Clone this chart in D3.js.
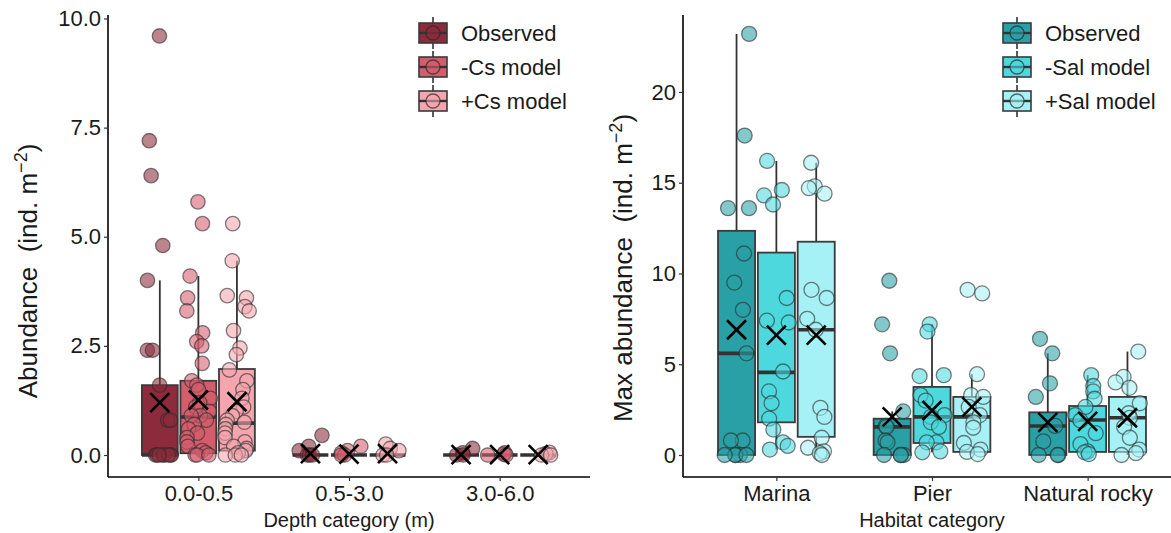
<!DOCTYPE html>
<html><head><meta charset="utf-8">
<script src="https://cdn.jsdelivr.net/npm/d3@7/dist/d3.min.js"></script>
<style>body{margin:0;background:#fff}svg{display:block;font-family:"Liberation Sans",Arial,sans-serif}</style>
</head><body><svg id="c" width="1171" height="533"></svg>
<script>
// ---------- data ----------
const leftCats = ["0.0-0.5", "0.5-3.0", "3.0-6.0"];
const leftSeries = ["Observed", "-Cs model", "+Cs model"];
const leftColors = ["#8b2b3b", "#d45d6d", "#f5a5ae"];
// points per category, per series
const leftObserved = [
  [9.6, 7.2, 6.4, 4.8, 4.0, 2.4, 2.4, 1.6, 0.8, 0.8, 0, 0, 0, 0, 0, 0, 0, 0],
  [0.45, 0.2, 0.1, 0, 0, 0],
  [0.15, 0.05, 0, 0]
];
const leftMinusCs = [
  [5.8, 5.3, 4.1, 3.6, 3.3, 2.8, 2.6, 2.5, 2.1, 1.7, 1.6, 1.5, 1.3, 1.2, 1.1, 1.0, 0.9, 0.9, 0.8, 0.7, 0.6, 0.5, 0.4, 0.3, 0.2, 0.1, 0.05, 0, 0, 0],
  [0.2, 0.1, 0.05, 0, 0],
  [0.05, 0.02, 0, 0]
];
const leftPlusCs = [
  [5.3, 4.45, 3.65, 3.6, 3.4, 3.3, 2.85, 2.45, 2.3, 1.95, 1.7, 1.5, 1.3, 1.1, 1.0, 0.9, 0.8, 0.75, 0.7, 0.6, 0.5, 0.4, 0.3, 0.2, 0.15, 0.1, 0.05, 0, 0, 0],
  [0.25, 0.15, 0.1, 0, 0],
  [0.06, 0.03, 0, 0]
];
// box stats: [lowWhisker, q1, median, q3, highWhisker, mean]
const leftObservedBox = [[0, 0, 0, 1.6, 4.0, 1.2], [0, 0, 0, 0, 0, 0.03], [0, 0, 0, 0, 0, 0.01]];
const leftMinusCsBox  = [[0, 0.04, 0.87, 1.7, 4.1, 1.26], [0, 0, 0, 0, 0, 0.02], [0, 0, 0, 0, 0, 0.01]];
const leftPlusCsBox   = [[0, 0.1, 0.73, 1.97, 4.45, 1.22], [0, 0, 0, 0, 0, 0.03], [0, 0, 0, 0, 0, 0.01]];
const leftYTicks = [0, 2.5, 5, 7.5, 10];

const rightCats = ["Marina", "Pier", "Natural rocky"];
const rightSeries = ["Observed", "-Sal model", "+Sal model"];
const rightColors = ["#29a0a6", "#4dd8de", "#a5f1f5"];
const rightObserved = [
  [23.2, 17.6, 13.6, 13.6, 11.1, 9.5, 8.0, 5.6, 0.8, 0.8, 0, 0, 0, 0, 0],
  [9.6, 7.2, 5.6, 2.4, 1.6, 1.55, 0.8, 0.7, 0, 0, 0, 0],
  [6.4, 5.6, 3.95, 3.2, 1.6, 0.75, 0, 0, 0]
];
const rightMinusSal = [
  [16.2, 14.6, 14.3, 13.8, 8.65, 7.4, 7.3, 4.6, 3.5, 2.85, 2.0, 1.4, 0.7, 0.3, 0.5],
  [7.2, 6.8, 4.4, 4.35, 3.3, 3.0, 2.2, 2.1, 1.8, 1.55, 0.7, 0.7, 0.2, 0.15],
  [4.4, 3.8, 3.5, 3.1, 2.65, 2.2, 1.9, 1.2, 0.6, 0.2, 0.15, 0.05]
];
const rightPlusSal = [
  [16.1, 14.8, 14.7, 14.4, 9.1, 8.65, 7.5, 6.9, 2.6, 2.1, 0.95, 0.4, 0.2, 0.1, 0],
  [9.1, 8.9, 4.45, 3.3, 3.2, 2.65, 2.2, 1.8, 1.5, 0.66, 0.3, 0.17, 0.05],
  [5.7, 4.3, 4.0, 3.7, 2.85, 2.3, 2.05, 1.55, 0.95, 0.3, 0.1, 0.0]
];
const rightObservedBox = [[0, 0, 5.6, 12.35, 23.2, 6.9], [0, 0, 1.55, 2.0, 2.4, 2.1], [0, 0, 1.6, 2.35, 5.6, 1.8]];
const rightMinusSalBox = [[0.3, 1.8, 4.55, 11.15, 16.2, 6.6], [0.15, 0.66, 2.1, 3.75, 7.2, 2.45], [0.05, 0.17, 1.93, 2.7, 4.4, 1.85]];
const rightPlusSalBox  = [[0, 1.0, 6.9, 11.75, 16.1, 6.6], [0.05, 0.17, 2.1, 3.2, 4.45, 2.65], [0, 0.17, 2.05, 3.2, 5.7, 2.05]];
const rightYTicks = [0, 5, 10, 15, 20];

// ---------- drawing ----------
const svg = d3.select("#c");
const FS = 22;

function panel(cfg) {
  const g = svg.append("g");
  const x = d3.scalePoint().domain(cfg.cats).range(cfg.xRange).padding(0.6);
  const step = x.step();
  const dodge = d3.scaleBand().domain(cfg.series).range([-step * 0.375, step * 0.375]).paddingInner(0.07);
  const bw = dodge.bandwidth();
  const y = d3.scaleLinear().domain(cfg.yDomain).range([477, 15]);

  // axes
  const ya = g.append("g").attr("transform", `translate(${cfg.xRange[0]},0)`)
    .call(d3.axisLeft(y).tickValues(cfg.yTicks).tickFormat(cfg.yFmt).tickSizeOuter(0).tickSize(4).tickPadding(3));
  const xa = g.append("g").attr("transform", `translate(0,477)`)
    .call(d3.axisBottom(x).tickSizeOuter(0).tickSize(4).tickPadding(4));
  [ya, xa].forEach(a => {
    a.select(".domain").attr("stroke", "#000").attr("stroke-width", 1.6);
    a.selectAll(".tick line").attr("stroke", "#333").attr("stroke-width", 1.2);
    a.selectAll("text").attr("font-size", FS).attr("fill", "#1a1a1a").attr("font-family", "Liberation Sans, Arial, sans-serif");
  });
  ya.select(".domain").attr("d", `M0,${y.range()[1]}V477`);
  xa.select(".domain").attr("d", `M${cfg.xRange[0]},0H${cfg.xRange[1]}`);

  // titles
  g.append("text").attr("x", cfg.xTitleX).attr("y", 527)
    .attr("text-anchor", "middle").attr("font-size", 20).attr("fill", "#1a1a1a").text(cfg.xTitle);
  const yt = g.append("text").attr("transform", `translate(${cfg.yTitleX},${cfg.yTitleY}) rotate(-90)`)
    .attr("text-anchor", "middle").attr("font-size", 26).attr("fill", "#1a1a1a").style("white-space", "pre");
  yt.append("tspan").text(cfg.yTitle + "  (ind. m");
  yt.append("tspan").attr("dy", -10).attr("font-size", 18).text("\u22122");
  yt.append("tspan").attr("dy", 10).text(")");

  const rng = d3.randomLcg(cfg.seed);
  cfg.series.forEach((s, si) => {
    const boxes = cfg.boxes[si], col = cfg.colors[si];
    cfg.cats.forEach((c, ci) => {
      const cx = x(c) + dodge(s) + bw / 2;
      const [lo, q1, med, q3, hi] = boxes[ci];
      const bg = g.append("g");
      bg.append("line").attr("x1", cx).attr("x2", cx).attr("y1", y(q3)).attr("y2", y(hi)).attr("stroke", "#333").attr("stroke-width", 1.8);
      bg.append("line").attr("x1", cx).attr("x2", cx).attr("y1", y(q1)).attr("y2", y(lo)).attr("stroke", "#333").attr("stroke-width", 1.8);
      bg.append("rect").attr("x", cx - bw / 2).attr("width", bw).attr("y", y(q3)).attr("height", Math.max(0, y(q1) - y(q3)))
        .attr("fill", col).attr("stroke", "#3a3a3a").attr("stroke-width", 1.8);
      bg.append("line").attr("x1", cx - bw / 2).attr("x2", cx + bw / 2).attr("y1", y(med)).attr("y2", y(med))
        .attr("stroke", "#333").attr("stroke-width", 3.6);
    });
  });
  // points
  cfg.series.forEach((s, si) => {
    const col = cfg.colors[si];
    cfg.cats.forEach((c, ci) => {
      const cx = x(c) + dodge(s) + bw / 2;
      cfg.points[si][ci].forEach(v => {
        const jx = (rng() - 0.5) * bw * 0.7;
        g.append("circle").attr("cx", cx + jx).attr("cy", y(v)).attr("r", cfg.r)
          .attr("fill", col).attr("fill-opacity", 0.58)
          .attr("stroke", "#2b2b2b").attr("stroke-opacity", 0.6).attr("stroke-width", 1.3);
      });
    });
  });
  // means
  cfg.series.forEach((s, si) => {
    cfg.cats.forEach((c, ci) => {
      const cx = x(c) + dodge(s) + bw / 2;
      const my = y(cfg.boxes[si][ci][5]);
      const d = 9.5;
      g.append("path").attr("d", `M${cx - d},${my - d}L${cx + d},${my + d}M${cx - d},${my + d}L${cx + d},${my - d}`)
        .attr("stroke", "#000").attr("stroke-width", 2.6).attr("fill", "none");
    });
  });

  // legend
  const lg = g.append("g");
  cfg.series.forEach((s, si) => {
    const ly = cfg.legY + si * 34;
    const kx = cfg.legX;
    const k = lg.append("g");
    k.append("line").attr("x1", kx + 14).attr("x2", kx + 14).attr("y1", ly - 16).attr("y2", ly + 16).attr("stroke", "#333").attr("stroke-width", 1.6);
    k.append("rect").attr("x", kx).attr("y", ly - 10).attr("width", 28).attr("height", 20)
      .attr("fill", cfg.colors[si]).attr("stroke", "#3a3a3a").attr("stroke-width", 1.6);
    k.append("line").attr("x1", kx).attr("x2", kx + 28).attr("y1", ly).attr("y2", ly).attr("stroke", "#333").attr("stroke-width", 2.4);
    k.append("circle").attr("cx", kx + 14).attr("cy", ly).attr("r", 7).attr("fill", cfg.colors[si]).attr("fill-opacity", 0.58)
      .attr("stroke", "#2b2b2b").attr("stroke-opacity", 0.7).attr("stroke-width", 1.3);
    lg.append("text").attr("x", kx + 42).attr("y", ly).attr("dy", "0.36em").attr("font-size", FS).attr("fill", "#1a1a1a").text(s);
  });
}

panel({
  cats: leftCats, series: leftSeries, colors: leftColors,
  points: [leftObserved, leftMinusCs, leftPlusCs],
  boxes: [leftObservedBox, leftMinusCsBox, leftPlusCsBox],
  xRange: [108, 590], yDomain: [-0.504, 10.08], yTicks: leftYTicks, yFmt: d3.format(".1f"),
  xTitle: "Depth category (m)", xTitleX: 349, yTitle: "Abundance", yTitleX: 37, yTitleY: 271,
  legX: 419, legY: 33, seed: 0.37, r: 7.2
});
panel({
  cats: rightCats, series: rightSeries, colors: rightColors,
  points: [rightObserved, rightMinusSal, rightPlusSal],
  boxes: [rightObservedBox, rightMinusSalBox, rightPlusSalBox],
  xRange: [683, 1181], yDomain: [-1.212, 24.24], yTicks: rightYTicks, yFmt: d3.format("d"),
  xTitle: "Habitat category", xTitleX: 932, yTitle: "Max abundance", yTitleX: 632, yTitleY: 268,
  legX: 1003, legY: 33, seed: 0.71, r: 7.5
});
</script></body></html>
